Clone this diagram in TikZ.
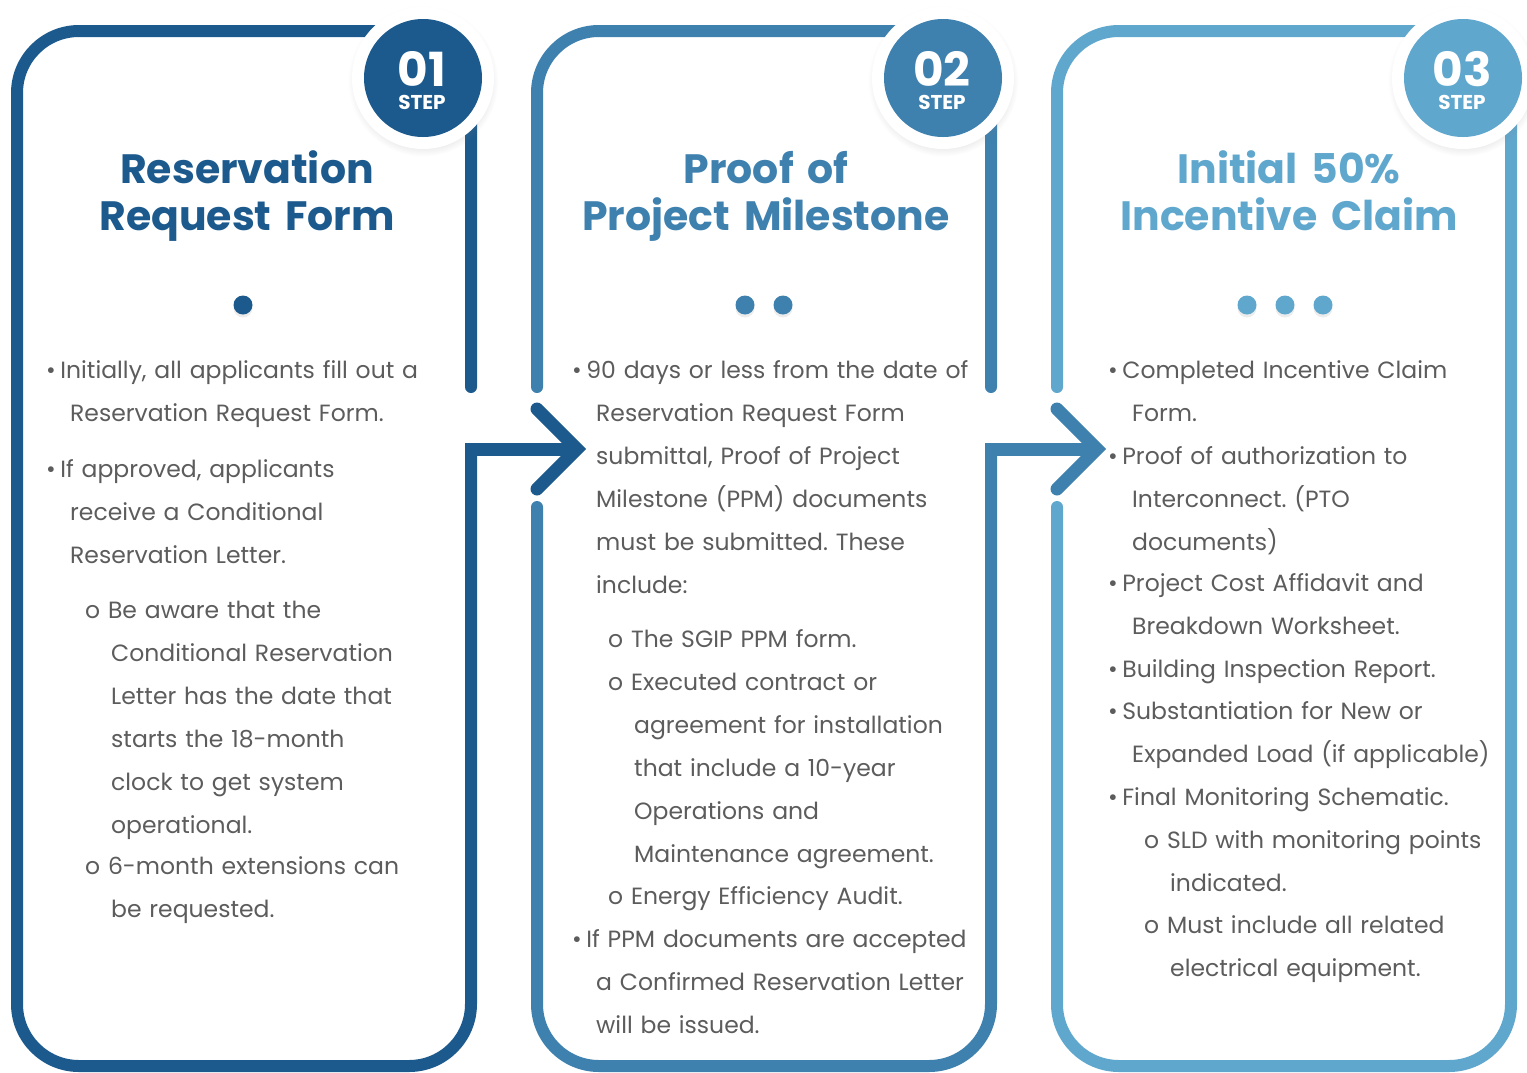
\documentclass[tikz,border=0pt]{standalone}
\usepackage{fontspec}
\setmainfont{Poppins}
\usetikzlibrary{positioning,shadows}

\definecolor{stepOne}{RGB}{28,90,141}
\definecolor{stepTwo}{RGB}{62,128,174}
\definecolor{stepThree}{RGB}{96,167,206}
\definecolor{bodyGray}{RGB}{92,92,92}

\tikzstyle{board} = [x=1pt, y=-1pt]
\tikzstyle{frameLine} = [line width=12pt, line cap=round, rounded corners=62pt]
\tikzstyle{arrowBar} = [line width=13pt, line cap=butt]
\tikzstyle{arrowHead} = [line width=13pt, line cap=round, line join=miter]
\tikzstyle{badgeRing} = [circle, fill=white, minimum size=142pt, inner sep=0pt,
  circular drop shadow={shadow xshift=0pt, shadow yshift=-3pt, shadow scale=1.06, opacity=.18}]
\tikzstyle{badgeDisc} = [circle, minimum size=118pt, inner sep=0pt]
\tikzstyle{badgeNumber} = [font=\fontsize{47}{47}\selectfont\bfseries, text=white, inner sep=0pt, text height=33pt, text depth=0pt, anchor=base]
\tikzstyle{badgeLabel} = [font=\fontsize{20}{20}\selectfont\bfseries, text=white, inner sep=0pt, text height=14pt, text depth=0pt, anchor=base]
\tikzstyle{titleText} = [font=\fontsize{41}{47}\selectfont\bfseries, align=center, text width=440pt, inner sep=0pt, anchor=base]
\tikzstyle{itemText} = [font=\fontsize{23.5}{43}\selectfont\frenchspacing, text=bodyGray, align=left, text width=460pt, inner sep=0pt, anchor=base west]
\tikzstyle{progressDot} = [circle, minimum size=19pt, inner sep=0pt,
  drop shadow={shadow xshift=0pt, shadow yshift=-3pt, opacity=.15}]

\newcommand{\itemDot}{•\hspace{4.5pt}}
\newcommand{\bulletIndent}{\hspace*{24pt}}
\newcommand{\subIndent}{\hspace*{26pt}}
\newcommand{\stepBadge}[4]{
  \node[badgeRing] (#1) at (#2,78) {};
  \node[badgeDisc, fill=#4] (#1disc) at (#1) {};
  \node[badgeNumber] (#1num) at (#2-1,86) {#3};
  \node[badgeLabel] (#1lbl) at (#2-1,109) {STEP};
}
\newcommand{\progressDots}[4]{
  \foreach \dotX [count=\i] in {#3} {
    \node[progressDot, fill=#4] (#1dot\i) at (\dotX,#2) {};
  }
}
\newcommand{\listItem}[4]{\node[itemText] (#1) at (#2,#3) {#4};}

\begin{document}
\begin{tikzpicture}[board]
  \useasboundingbox (0,0) rectangle (1527,1072);

  % arrow end points between the cards
  \coordinate (barOneStart) at (465,449);
  \coordinate (tipOne) at (577,449);
  \coordinate (wingOneUp) at (537,409);
  \coordinate (wingOneDown) at (537,489);
  \coordinate (barTwoStart) at (985,449);
  \coordinate (tipTwo) at (1097,449);
  \coordinate (wingTwoUp) at (1057,409);
  \coordinate (wingTwoDown) at (1057,489);

  % card frames
  \draw[frameLine, stepOne] (471,387) -- (471,31) -- (17,31) -- (17,1066) -- (471,1066) -- (471,455);
  \draw[arrowBar, stepOne] (barOneStart) -- (tipOne);
  \draw[arrowHead, stepOne] (wingOneUp) -- (tipOne) -- (wingOneDown);

  \draw[frameLine, stepTwo] (537,387) -- (537,31) -- (991,31) -- (991,387);
  \draw[frameLine, stepTwo] (991,455) -- (991,1066) -- (537,1066) -- (537,507);
  \draw[arrowBar, stepTwo] (barTwoStart) -- (tipTwo);
  \draw[arrowHead, stepTwo] (wingTwoUp) -- (tipTwo) -- (wingTwoDown);

  \draw[frameLine, stepThree] (1057,387) -- (1057,31) -- (1511,31) -- (1511,1066) -- (1057,1066) -- (1057,507);

  % step badges
  \stepBadge{badgeOne}{423}{01}{stepOne}
  \stepBadge{badgeTwo}{943}{02}{stepTwo}
  \stepBadge{badgeThree}{1463}{03}{stepThree}

  % titles
  \node[titleText, text=stepOne] (titleOne) at (247,183) {Reservation\\Request Form};
  \node[titleText, text=stepTwo] (titleTwo) at (766,183) {Proof of\\Project Milestone};
  \node[titleText, text=stepThree] (titleThree) at (1289,183) {Initial 50\%\\Incentive Claim};

  \progressDots{one}{305}{243}{stepOne}
  \progressDots{two}{305}{745,783}{stepTwo}
  \progressDots{three}{305}{1247,1285,1323}{stepThree}

  % card 1
  \listItem{oneA}{46}{378}{\itemDot Initially, all applicants fill out a\\\bulletIndent Reservation Request Form.}
  \listItem{oneB}{46}{477}{\itemDot If approved, applicants\\\bulletIndent receive a Conditional\\\bulletIndent Reservation Letter.}
  \listItem{oneC}{85}{618}{o Be aware that the\\\subIndent Conditional Reservation\\\subIndent Letter has the date that\\\subIndent starts the 18-month\\\subIndent clock to get system\\\subIndent operational.}
  \listItem{oneD}{85}{874}{o 6-month extensions can\\\subIndent be requested.}

  % card 2
  \listItem{twoA}{572}{378}{\itemDot 90 days or less from the date of\\\bulletIndent Reservation Request Form\\\bulletIndent submittal, Proof of Project\\\bulletIndent Milestone (PPM) documents\\\bulletIndent must be submitted. These\\\bulletIndent include:}
  \listItem{twoB}{608}{647}{o The SGIP PPM form.}
  \listItem{twoC}{608}{690}{o Executed contract or\\\subIndent agreement for installation\\\subIndent that include a 10-year\\\subIndent Operations and\\\subIndent Maintenance agreement.}
  \listItem{twoD}{608}{904}{o Energy Efficiency Audit.}
  \listItem{twoE}{572}{947}{\itemDot If PPM documents are accepted\\\bulletIndent a Confirmed Reservation Letter\\\bulletIndent will be issued.}

  % card 3
  \listItem{threeA}{1108}{378}{\itemDot Completed Incentive Claim\\\bulletIndent Form.}
  \listItem{threeB}{1108}{464}{\itemDot Proof of authorization to\\\bulletIndent Interconnect. (PTO\\\bulletIndent documents)}
  \listItem{threeC}{1108}{591}{\itemDot Project Cost Affidavit and\\\bulletIndent Breakdown Worksheet.}
  \listItem{threeD}{1108}{677}{\itemDot Building Inspection Report.}
  \listItem{threeE}{1108}{719}{\itemDot Substantiation for New or\\\bulletIndent Expanded Load (if applicable)}
  \listItem{threeF}{1108}{805}{\itemDot Final Monitoring Schematic.}
  \listItem{threeG}{1144}{848}{o SLD with monitoring points\\\subIndent indicated.}
  \listItem{threeH}{1144}{933}{o Must include all related\\\subIndent electrical equipment.}
\end{tikzpicture}
\end{document}
